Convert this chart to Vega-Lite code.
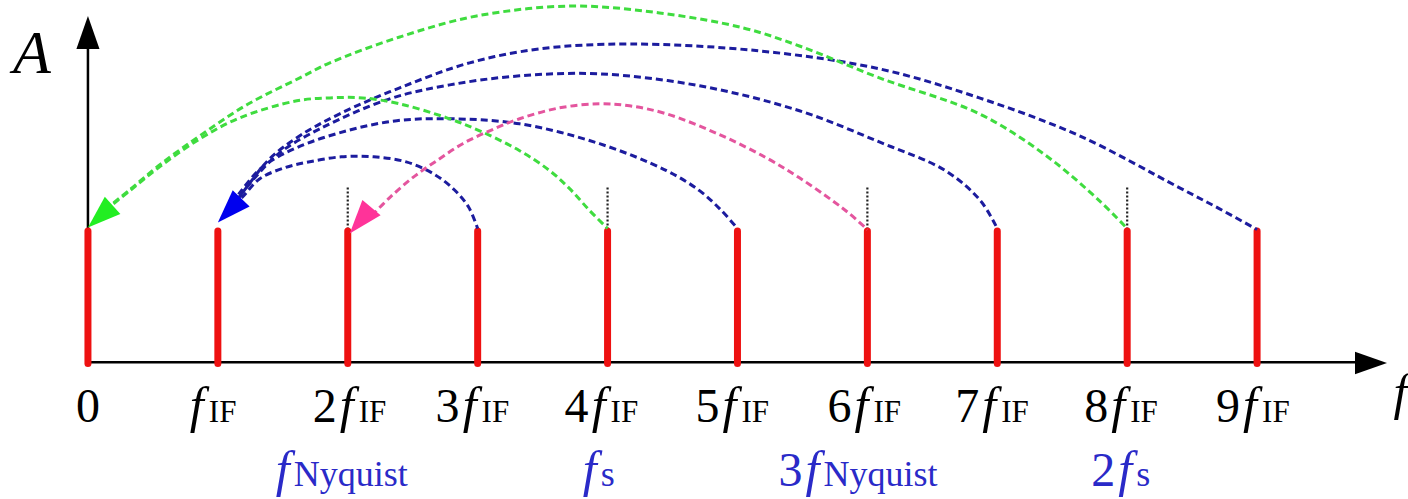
{
  "$schema": "https://vega.github.io/schema/vega-lite/v6.json",
  "width": 1408,
  "height": 499,
  "autosize": {"type": "fit", "contains": "padding"},
  "padding": 0,
  "background": "white",
  "config": {"view": {"stroke": null}},
  "datasets": {
    "bars": [{"k": 0}, {"k": 1}, {"k": 2}, {"k": 3}, {"k": 4}, {"k": 5}, {"k": 6}, {"k": 7}, {"k": 8}, {"k": 9}],
    "guides": [{"k": 2}, {"k": 4}, {"k": 6}, {"k": 8}],
    "arcs": [
      {"arc": "B3", "kind": "blue", "f": 3, "A": 1.008}, {"arc": "B3", "kind": "blue", "f": 2.93, "A": 1.17}, {"arc": "B3", "kind": "blue", "f": 2.82, "A": 1.3}, {"arc": "B3", "kind": "blue", "f": 2.66, "A": 1.42}, {"arc": "B3", "kind": "blue", "f": 2.45, "A": 1.51}, {"arc": "B3", "kind": "blue", "f": 2.2, "A": 1.548}, {"arc": "B3", "kind": "blue", "f": 1.95, "A": 1.548}, {"arc": "B3", "kind": "blue", "f": 1.708, "A": 1.511}, {"arc": "B3", "kind": "blue", "f": 1.515, "A": 1.466}, {"arc": "B3", "kind": "blue", "f": 1.323, "A": 1.383}, {"arc": "B3", "kind": "blue", "f": 1.192, "A": 1.248}, {"arc": "B3", "kind": "blue", "f": 1.062, "A": 1.12},
      {"arc": "B5", "kind": "blue", "f": 5, "A": 1.008}, {"arc": "B5", "kind": "blue", "f": 4.877, "A": 1.143}, {"arc": "B5", "kind": "blue", "f": 4.708, "A": 1.293}, {"arc": "B5", "kind": "blue", "f": 4.454, "A": 1.444}, {"arc": "B5", "kind": "blue", "f": 3.938, "A": 1.647}, {"arc": "B5", "kind": "blue", "f": 3.323, "A": 1.797}, {"arc": "B5", "kind": "blue", "f": 2.762, "A": 1.835}, {"arc": "B5", "kind": "blue", "f": 2.377, "A": 1.82}, {"arc": "B5", "kind": "blue", "f": 1.992, "A": 1.744}, {"arc": "B5", "kind": "blue", "f": 1.608, "A": 1.617}, {"arc": "B5", "kind": "blue", "f": 1.346, "A": 1.474}, {"arc": "B5", "kind": "blue", "f": 1.169, "A": 1.278}, {"arc": "B5", "kind": "blue", "f": 1.062, "A": 1.128},
      {"arc": "B7", "kind": "blue", "f": 7, "A": 1.008}, {"arc": "B7", "kind": "blue", "f": 6.87, "A": 1.218}, {"arc": "B7", "kind": "blue", "f": 6.6, "A": 1.444}, {"arc": "B7", "kind": "blue", "f": 6.092, "A": 1.66}, {"arc": "B7", "kind": "blue", "f": 5.477, "A": 1.895}, {"arc": "B7", "kind": "blue", "f": 4.708, "A": 2.083}, {"arc": "B7", "kind": "blue", "f": 3.938, "A": 2.173}, {"arc": "B7", "kind": "blue", "f": 3.323, "A": 2.158}, {"arc": "B7", "kind": "blue", "f": 2.785, "A": 2.09}, {"arc": "B7", "kind": "blue", "f": 2.323, "A": 1.985}, {"arc": "B7", "kind": "blue", "f": 1.785, "A": 1.759}, {"arc": "B7", "kind": "blue", "f": 1.477, "A": 1.579}, {"arc": "B7", "kind": "blue", "f": 1.285, "A": 1.391}, {"arc": "B7", "kind": "blue", "f": 1.154, "A": 1.233}, {"arc": "B7", "kind": "blue", "f": 1.062, "A": 1.12},
      {"arc": "B9", "kind": "blue", "f": 9, "A": 1.0}, {"arc": "B9", "kind": "blue", "f": 8.708, "A": 1.158}, {"arc": "B9", "kind": "blue", "f": 8.4, "A": 1.316}, {"arc": "B9", "kind": "blue", "f": 7.631, "A": 1.707}, {"arc": "B9", "kind": "blue", "f": 6.862, "A": 1.992}, {"arc": "B9", "kind": "blue", "f": 6.092, "A": 2.211}, {"arc": "B9", "kind": "blue", "f": 5.169, "A": 2.346}, {"arc": "B9", "kind": "blue", "f": 4.169, "A": 2.398}, {"arc": "B9", "kind": "blue", "f": 3.477, "A": 2.361}, {"arc": "B9", "kind": "blue", "f": 2.938, "A": 2.256}, {"arc": "B9", "kind": "blue", "f": 2.4, "A": 2.068}, {"arc": "B9", "kind": "blue", "f": 1.938, "A": 1.872}, {"arc": "B9", "kind": "blue", "f": 1.631, "A": 1.707}, {"arc": "B9", "kind": "blue", "f": 1.4, "A": 1.534}, {"arc": "B9", "kind": "blue", "f": 1.231, "A": 1.331}, {"arc": "B9", "kind": "blue", "f": 1.092, "A": 1.143},
      {"arc": "G4", "kind": "green", "f": 4, "A": 1.008}, {"arc": "G4", "kind": "green", "f": 3.862, "A": 1.143}, {"arc": "G4", "kind": "green", "f": 3.708, "A": 1.308}, {"arc": "G4", "kind": "green", "f": 3.554, "A": 1.444}, {"arc": "G4", "kind": "green", "f": 3.323, "A": 1.594}, {"arc": "G4", "kind": "green", "f": 3.015, "A": 1.744}, {"arc": "G4", "kind": "green", "f": 2.762, "A": 1.842}, {"arc": "G4", "kind": "green", "f": 2.4, "A": 1.947}, {"arc": "G4", "kind": "green", "f": 2.115, "A": 1.992}, {"arc": "G4", "kind": "green", "f": 1.862, "A": 1.992}, {"arc": "G4", "kind": "green", "f": 1.608, "A": 1.97}, {"arc": "G4", "kind": "green", "f": 1.169, "A": 1.842}, {"arc": "G4", "kind": "green", "f": 0.862, "A": 1.684}, {"arc": "G4", "kind": "green", "f": 0.554, "A": 1.474}, {"arc": "G4", "kind": "green", "f": 0.323, "A": 1.293}, {"arc": "G4", "kind": "green", "f": 0.131, "A": 1.143},
      {"arc": "G8", "kind": "green", "f": 8, "A": 1.008}, {"arc": "G8", "kind": "green", "f": 7.785, "A": 1.218}, {"arc": "G8", "kind": "green", "f": 7.377, "A": 1.556}, {"arc": "G8", "kind": "green", "f": 6.862, "A": 1.872}, {"arc": "G8", "kind": "green", "f": 6.092, "A": 2.143}, {"arc": "G8", "kind": "green", "f": 5.477, "A": 2.383}, {"arc": "G8", "kind": "green", "f": 5.046, "A": 2.519}, {"arc": "G8", "kind": "green", "f": 4.4, "A": 2.632}, {"arc": "G8", "kind": "green", "f": 3.723, "A": 2.684}, {"arc": "G8", "kind": "green", "f": 2.992, "A": 2.609}, {"arc": "G8", "kind": "green", "f": 2.4, "A": 2.451}, {"arc": "G8", "kind": "green", "f": 1.862, "A": 2.256}, {"arc": "G8", "kind": "green", "f": 1.631, "A": 2.143}, {"arc": "G8", "kind": "green", "f": 1.223, "A": 1.94}, {"arc": "G8", "kind": "green", "f": 0.862, "A": 1.707}, {"arc": "G8", "kind": "green", "f": 0.554, "A": 1.489}, {"arc": "G8", "kind": "green", "f": 0.323, "A": 1.301}, {"arc": "G8", "kind": "green", "f": 0.131, "A": 1.15},
      {"arc": "P6", "kind": "pink", "f": 6, "A": 1.0}, {"arc": "P6", "kind": "pink", "f": 5.862, "A": 1.12}, {"arc": "P6", "kind": "pink", "f": 5.731, "A": 1.218}, {"arc": "P6", "kind": "pink", "f": 5.477, "A": 1.39}, {"arc": "P6", "kind": "pink", "f": 5.223, "A": 1.54}, {"arc": "P6", "kind": "pink", "f": 4.862, "A": 1.715}, {"arc": "P6", "kind": "pink", "f": 4.454, "A": 1.872}, {"arc": "P6", "kind": "pink", "f": 4.169, "A": 1.932}, {"arc": "P6", "kind": "pink", "f": 3.938, "A": 1.947}, {"arc": "P6", "kind": "pink", "f": 3.631, "A": 1.917}, {"arc": "P6", "kind": "pink", "f": 3.323, "A": 1.835}, {"arc": "P6", "kind": "pink", "f": 3.092, "A": 1.744}, {"arc": "P6", "kind": "pink", "f": 2.885, "A": 1.647}, {"arc": "P6", "kind": "pink", "f": 2.685, "A": 1.519}, {"arc": "P6", "kind": "pink", "f": 2.5, "A": 1.391}, {"arc": "P6", "kind": "pink", "f": 2.323, "A": 1.241}, {"arc": "P6", "kind": "pink", "f": 2.185, "A": 1.105}
    ],
    "heads": [
      {"kind": "green", "f": 0, "A": 1.015},
      {"kind": "blue", "f": 1, "A": 1.053},
      {"kind": "pink", "f": 2.015, "A": 0.97}
    ],
    "ticklabels": [
      {"fx": 0.838, "coef": "", "sub": "IF"},
      {"fx": 1.992, "coef": "2", "sub": "IF"},
      {"fx": 2.938, "coef": "3", "sub": "IF"},
      {"fx": 3.931, "coef": "4", "sub": "IF"},
      {"fx": 4.938, "coef": "5", "sub": "IF"},
      {"fx": 5.954, "coef": "6", "sub": "IF"},
      {"fx": 6.938, "coef": "7", "sub": "IF"},
      {"fx": 7.931, "coef": "8", "sub": "IF"},
      {"fx": 8.946, "coef": "9", "sub": "IF"}
    ],
    "bluelabels": [
      {"fx": 1.5, "coef": "", "sub": "Nyquist"},
      {"fx": 3.862, "coef": "", "sub": "s"},
      {"fx": 5.577, "coef": "3", "sub": "Nyquist"},
      {"fx": 7.985, "coef": "2", "sub": "s"}
    ]
  },
  "layer": [
    {
      "data": {"values": [{"from": 0, "to": 9.8}]},
      "mark": {"type": "rule", "color": "black", "strokeWidth": 2.5},
      "encoding": {
        "x": {"field": "from", "type": "quantitative", "scale": {"domain": [-0.677, 10.154], "nice": false, "zero": false}, "axis": null},
        "x2": {"field": "to"},
        "y": {"datum": 0, "type": "quantitative", "scale": {"domain": [-1.03, 2.722], "nice": false, "zero": false}, "axis": null}
      }
    },
    {
      "data": {"values": [{"from": -0.02, "to": 2.4}]},
      "mark": {"type": "rule", "color": "black", "strokeWidth": 2.5},
      "encoding": {
        "x": {"datum": 0, "type": "quantitative"},
        "y": {"field": "from", "type": "quantitative"},
        "y2": {"field": "to"}
      }
    },
    {
      "data": {"values": [{"f": 0, "A": 2.609}]},
      "mark": {"type": "point", "shape": "M0,0L0.7,2L-0.7,2Z", "filled": true, "color": "black", "opacity": 1, "size": 1089, "angle": 0},
      "encoding": {
        "x": {"field": "f", "type": "quantitative"},
        "y": {"field": "A", "type": "quantitative"}
      }
    },
    {
      "data": {"values": [{"f": 10, "A": -0.005}]},
      "mark": {"type": "point", "shape": "M0,0L0.7,2L-0.7,2Z", "filled": true, "color": "black", "opacity": 1, "size": 1024, "angle": 90},
      "encoding": {
        "x": {"field": "f", "type": "quantitative"},
        "y": {"field": "A", "type": "quantitative"}
      }
    },
    {
      "data": {"name": "guides"},
      "mark": {"type": "rule", "color": "#222222", "strokeWidth": 2.2, "strokeDash": [2, 2]},
      "encoding": {
        "x": {"field": "k", "type": "quantitative"},
        "y": {"datum": 1.0, "type": "quantitative"},
        "y2": {"datum": 1.316}
      }
    },
    {
      "data": {"name": "bars"},
      "mark": {"type": "rule", "color": "#ee1111", "strokeWidth": 7, "strokeCap": "round"},
      "encoding": {
        "x": {"field": "k", "type": "quantitative"},
        "y": {"datum": -0.01, "type": "quantitative"},
        "y2": {"datum": 0.99}
      }
    },
    {
      "data": {"name": "arcs"},
      "mark": {"type": "line", "interpolate": "catmull-rom", "strokeWidth": 3, "strokeDash": [7, 4]},
      "encoding": {
        "x": {"field": "f", "type": "quantitative"},
        "y": {"field": "A", "type": "quantitative"},
        "detail": {"field": "arc", "type": "nominal"},
        "stroke": {"field": "kind", "type": "nominal", "scale": {"domain": ["green", "blue", "pink"], "range": ["#3fdc3f", "#1c1c9e", "#e4559e"]}, "legend": null}
      }
    },
    {
      "data": {"name": "heads"},
      "mark": {"type": "point", "shape": "M0,0L0.7,2L-0.7,2Z", "filled": true, "opacity": 1},
      "encoding": {
        "x": {"field": "f", "type": "quantitative"},
        "y": {"field": "A", "type": "quantitative"},
        "fill": {"field": "kind", "type": "nominal", "scale": {"domain": ["green", "blue", "pink"], "range": ["#22ee22", "#0000ee", "#ff3399"]}, "legend": null},
        "angle": {"field": "kind", "type": "nominal", "scale": {"domain": ["green", "blue", "pink"], "range": [228, 220, 225]}, "legend": null},
        "size": {"field": "kind", "type": "nominal", "scale": {"domain": ["green", "blue", "pink"], "range": [1100, 1150, 700]}, "legend": null}
      }
    },
    {
      "data": {"values": [{"f": -0.431, "A": 2.18, "t": "A"}]},
      "mark": {"type": "text", "font": "Liberation Serif", "fontStyle": "italic", "fontSize": 62, "align": "center", "baseline": "alphabetic", "color": "black"},
      "encoding": {
        "x": {"field": "f", "type": "quantitative"},
        "y": {"field": "A", "type": "quantitative"},
        "text": {"field": "t"}
      }
    },
    {
      "data": {"values": [{"f": 10.05, "A": -0.353, "t": "f"}]},
      "mark": {"type": "text", "font": "Liberation Serif", "fontStyle": "italic", "fontSize": 50, "align": "left", "baseline": "alphabetic", "color": "black"},
      "encoding": {
        "x": {"field": "f", "type": "quantitative"},
        "y": {"field": "A", "type": "quantitative"},
        "text": {"field": "t"}
      }
    },
    {
      "data": {"values": [{"f": 0, "t": "0"}]},
      "mark": {"type": "text", "font": "Liberation Serif", "fontSize": 48, "align": "center", "baseline": "alphabetic", "color": "black"},
      "encoding": {
        "x": {"field": "f", "type": "quantitative"},
        "y": {"datum": -0.451, "type": "quantitative"},
        "text": {"field": "t"}
      }
    },
    {
      "data": {"name": "ticklabels"},
      "mark": {"type": "text", "font": "Liberation Serif", "fontSize": 48, "align": "right", "dx": -10, "baseline": "alphabetic", "color": "black"},
      "encoding": {
        "x": {"field": "fx", "type": "quantitative"},
        "y": {"datum": -0.451, "type": "quantitative"},
        "text": {"field": "coef"}
      }
    },
    {
      "data": {"name": "ticklabels"},
      "mark": {"type": "text", "font": "Liberation Serif", "fontStyle": "italic", "fontSize": 50, "align": "center", "baseline": "alphabetic", "color": "black"},
      "encoding": {
        "x": {"field": "fx", "type": "quantitative"},
        "y": {"datum": -0.451, "type": "quantitative"},
        "text": {"value": "f"}
      }
    },
    {
      "data": {"name": "ticklabels"},
      "mark": {"type": "text", "font": "Liberation Serif", "fontSize": 31, "align": "left", "dx": 12, "baseline": "alphabetic", "color": "black"},
      "encoding": {
        "x": {"field": "fx", "type": "quantitative"},
        "y": {"datum": -0.451, "type": "quantitative"},
        "text": {"field": "sub"}
      }
    },
    {
      "data": {"name": "bluelabels"},
      "mark": {"type": "text", "font": "Liberation Serif", "fontSize": 48, "align": "right", "dx": -10, "baseline": "alphabetic", "color": "#2a2ac8"},
      "encoding": {
        "x": {"field": "fx", "type": "quantitative"},
        "y": {"datum": -0.932, "type": "quantitative"},
        "text": {"field": "coef"}
      }
    },
    {
      "data": {"name": "bluelabels"},
      "mark": {"type": "text", "font": "Liberation Serif", "fontStyle": "italic", "fontSize": 50, "align": "center", "baseline": "alphabetic", "color": "#2a2ac8"},
      "encoding": {
        "x": {"field": "fx", "type": "quantitative"},
        "y": {"datum": -0.932, "type": "quantitative"},
        "text": {"value": "f"}
      }
    },
    {
      "data": {"name": "bluelabels"},
      "mark": {"type": "text", "font": "Liberation Serif", "fontSize": 36, "align": "left", "dx": 11, "baseline": "alphabetic", "color": "#2a2ac8"},
      "encoding": {
        "x": {"field": "fx", "type": "quantitative"},
        "y": {"datum": -0.932, "type": "quantitative"},
        "text": {"field": "sub"}
      }
    }
  ]
}
